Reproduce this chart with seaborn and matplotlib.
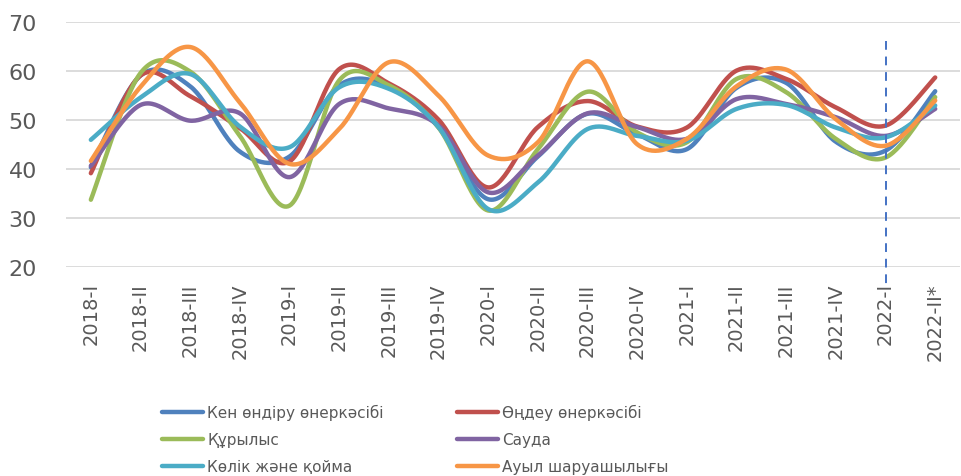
import numpy as np
import pandas as pd
import matplotlib
matplotlib.use("Agg")
import matplotlib.pyplot as plt
import seaborn as sns
from matplotlib.lines import Line2D

categories = ["2018-I", "2018-II", "2018-III", "2018-IV",
              "2019-I", "2019-II", "2019-III", "2019-IV",
              "2020-I", "2020-II", "2020-III", "2020-IV",
              "2021-I", "2021-II", "2021-III", "2021-IV",
              "2022-I", "2022-II*"]

mining = [40.3, 59.0, 56.8, 43.5, 42.5, 57.0, 56.8, 48.5, 33.8, 42.5, 51.2, 47.0, 44.0, 56.5, 57.5, 45.5, 43.7, 55.8]
manufacturing = [39.1, 59.0, 54.8, 48.3, 41.5, 60.3, 57.4, 50.0, 36.2, 48.5, 53.8, 48.6, 48.4, 60.0, 58.3, 52.5, 48.8, 58.6]
construction = [33.7, 59.5, 59.8, 46.7, 32.5, 58.0, 57.0, 48.4, 31.5, 44.0, 55.7, 47.4, 45.4, 58.3, 55.6, 46.1, 42.3, 54.6]
trade = [40.6, 53.0, 49.8, 51.3, 38.3, 53.2, 52.3, 48.8, 35.2, 42.7, 51.3, 48.5, 46.1, 54.2, 53.2, 50.5, 46.7, 52.2]
transport = [45.9, 54.5, 59.3, 48.6, 44.4, 56.6, 56.3, 48.5, 31.8, 37.2, 48.1, 46.7, 45.7, 52.2, 53.0, 48.4, 46.4, 52.9]
agriculture = [41.6, 56.7, 64.8, 53.5, 41.0, 48.1, 61.7, 54.9, 42.7, 45.4, 61.9, 45.0, 46.1, 56.8, 60.2, 50.1, 44.7, 53.9]

series_names = ["Кен өндіру өнеркәсібі", "Өңдеу өнеркәсібі", "Құрылыс",
                "Сауда", "Көлік және қойма", "Ауыл шаруашылығы"]
series_values = [mining, manufacturing, construction, trade, transport, agriculture]
colors = ["#4F81BD", "#C0504D", "#9BBB59", "#8064A2", "#4BACC6", "#F79646"]

forecast_index = 16
y_ticks = [20, 30, 40, 50, 60, 70]


def excel_smooth(xs, ys, steps=30):
    P = np.column_stack([xs, ys]).astype(float)
    n = len(P)
    out = []
    for i in range(n - 1):
        p0 = P[i - 1] if i > 0 else P[i]
        p1 = P[i]
        p2 = P[i + 1]
        p3 = P[i + 2] if i + 2 < n else P[i + 1]
        c1 = p1 + (p2 - p0) / 6.0
        c2 = p2 - (p3 - p1) / 6.0
        t = np.linspace(0, 1, steps, endpoint=(i == n - 2))[:, None]
        b = ((1 - t) ** 3) * p1 + 3 * ((1 - t) ** 2) * t * c1 + 3 * (1 - t) * t ** 2 * c2 + t ** 3 * p2
        out.append(b)
    return np.vstack(out)


rows = []
xs = np.arange(len(categories))
for name, vals in zip(series_names, series_values):
    curve = excel_smooth(xs, vals)
    for k, (cx, cy) in enumerate(curve):
        rows.append({"series": name, "x": cx, "y": cy, "order": k})
df = pd.DataFrame(rows)

sns.set_theme(style="white")
plt.rcParams["font.family"] = ["DejaVu Sans"]

fig = plt.figure(figsize=(9.61, 4.77), dpi=100)
ax = fig.add_axes([0.0687, 0.4382, 0.9303, 0.5146])

sns.lineplot(data=df, x="x", y="y", hue="series", hue_order=series_names,
             palette=colors, sort=False, estimator=None, linewidth=3.2,
             legend=False, ax=ax)
for ln in ax.lines:
    ln.set_solid_capstyle("round")

ax.plot([forecast_index, forecast_index], [66.1, 15.9], color="#4472C4",
        lw=1.4, ls=(0, (4.5, 3.5)), clip_on=False, zorder=5)

ax.set_xlim(-0.5, len(categories) - 0.5)
ax.set_ylim(20, 70)
ax.set_yticks(y_ticks)
ax.set_xticks(xs)
ax.set_xticklabels(categories, rotation=90, fontsize=14, color="#595959")
ax.tick_params(axis="x", length=0, pad=11)
ax.tick_params(axis="y", length=0, pad=21, labelsize=16, labelcolor="#595959")
ax.set_xlabel("")
ax.set_ylabel("")
ax.grid(axis="y", color="#D9D9D9", lw=1.3)
ax.grid(axis="x", visible=False)
ax.set_axisbelow(True)
for s in ax.spines.values():
    s.set_visible(False)

order = [0, 2, 4, 1, 3, 5]
handles = [Line2D([0], [0], color=colors[i], lw=3.2, solid_capstyle="round") for i in order]
labels = [series_names[i] for i in order]
leg = fig.legend(handles, labels, ncol=2, loc="upper left",
                 bbox_to_anchor=(162 / 961, 1 - 405 / 477), frameon=False,
                 fontsize=11, handlelength=2.7, handletextpad=0.25,
                 labelspacing=0.78, columnspacing=4.8, borderpad=0, borderaxespad=0)
for t in leg.get_texts():
    t.set_color("#595959")

fig.savefig("out.png", dpi=100)
